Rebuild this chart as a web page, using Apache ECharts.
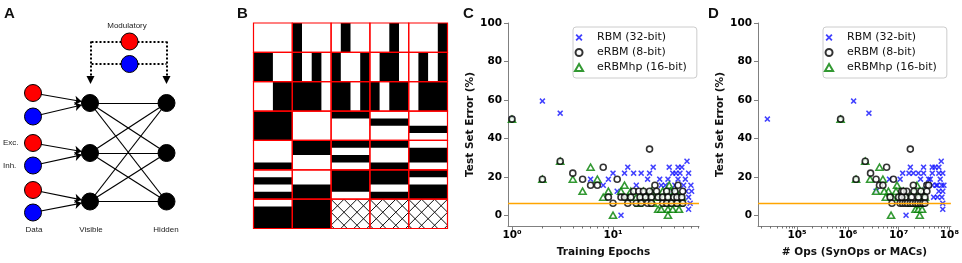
<!DOCTYPE html>
<html>
<head>
<meta charset="utf-8">
<script src="https://cdn.jsdelivr.net/npm/echarts@6/dist/echarts.min.js"></script>
<style>
  html, body { margin: 0; padding: 0; background: #fff; }
  #chart { width: 962px; height: 263px; }
</style>
</head>
<body>
<div id="chart"></div>
<script>
// ---------- panel A : network diagram (panel pixel units) ----------
const dataNodes = [[33, 93], [33, 116.5], [33, 143], [33, 165.5], [33, 190], [33, 212.5]];
const visibleNodes = [[90, 103], [90, 153], [90, 201.5]];
const hiddenNodes = [[166.5, 103], [166.5, 153], [166.5, 201.5]];
const modNodes = [[129.5, 41.5], [129.5, 64]];
const excInhColors = ['#ff0000', '#0000ff'];
const dottedPlain = [
  [[129.5, 41.5], [90.5, 41.5]], [[129.5, 64], [90.5, 64]],
  [[129.5, 41.5], [166.5, 41.5]], [[129.5, 64], [166.5, 64]]
];
const dottedArrow = [[[90.5, 41.5], [90.5, 80]], [[166.5, 41.5], [166.5, 80]]];
const diagramTexts = [
  ['Modulatory', 127, 26, 'center'], ['Exc.', 3, 143, 'left'], ['Inh.', 3, 166, 'left'],
  ['Data', 34, 230, 'center'], ['Visible', 91, 230, 'center'], ['Hidden', 166, 230, 'center']
];

// ---------- panel B : stripe patterns (v = vertical bars, h = horizontal bars, x = hatched) ----------
const stripeRows = [
  ['v0000', 'v1000', 'v0100', 'v0010', 'v0001'],
  ['v1100', 'v1010', 'v1001', 'v0110', 'v0101'],
  ['v0011', 'v1110', 'v1101', 'v1011', 'v0111'],
  ['h1111', 'h0000', 'h1000', 'h0100', 'h0010'],
  ['h0001', 'h1100', 'h1010', 'h1001', 'h0110'],
  ['h0101', 'h0011', 'h1110', 'h1101', 'h1011'],
  ['h0111', 'h1111', 'x', 'x', 'x']
];

// ---------- panel C : error vs training epochs ----------
const cRBM = [[1, 50], [2, 59.4], [3, 53.1], [6, 18.75], [8, 15.6], [9, 18.75], [10, 21.9], [11, 12.5], [12, 0],
  [13, 21.9], [14, 25], [16, 21.9], [17, 15.6], [19, 21.9], [22, 18.75], [23, 21.9], [25, 25], [29, 18.75],
  [30, 15.6], [33, 15.6], [35, 18.75], [36, 25], [39, 21.9], [39, 12.5], [41, 15.6], [42, 21.9], [44, 18.75],
  [44, 25], [46, 21.9], [48, 25], [50, 15.6], [52, 18.75], [54, 28.1], [56, 21.9], [56, 9.4], [58, 6.25],
  [56, 3.1], [59, 15.6], [60, 12.5], [53, 12.5]];
const cERBM = [[1, 50], [2, 18.75], [3, 28.1], [4, 21.9], [5, 18.75], [6, 15.6], [7, 15.6], [8, 25], [9, 9.4],
  [10, 6.25], [11, 18.75], [12, 9.4], [13, 9.4], [14, 6.25], [15, 9.4], [16, 12.5], [17, 6.25], [18, 12.5],
  [18.5, 9.4], [19, 6.25], [20, 12.5], [21, 9.4], [22, 6.25], [23, 34.4], [23, 12.5], [24, 9.4], [24, 6.25],
  [26, 15.6], [27, 12.5], [28, 9.4], [31, 6.25], [31, 9.4], [34, 12.5], [34, 6.25], [35, 9.4], [38, 6.25],
  [40, 9.4], [41, 12.5], [43, 6.25], [43, 9.4], [44, 15.6], [48, 9.4], [49, 12.5], [49, 6.25]];
const cERBMhp = [[1, 50], [2, 18.75], [3, 28.1], [4, 18.75], [5, 12.5], [6, 25], [7, 18.75], [8, 9.4], [9, 12.5],
  [10, 0], [12, 12.5], [13, 15.6], [14, 9.4], [15, 12.5], [17, 9.4], [18, 6.25], [19, 9.4], [20, 12.5],
  [22, 9.4], [24, 12.5], [25, 6.25], [27, 9.4], [28, 3.1], [30, 3.1], [31, 12.5], [32, 9.4], [33, 6.25],
  [35, 3.1], [35, 0], [36, 15.6], [37, 12.5], [38, 9.4], [39, 3.1], [40, 6.25], [42, 12.5], [44, 9.4],
  [45, 3.1], [46, 6.25], [48, 9.4]];

// ---------- panel D : error vs number of ops ----------
const dRBM = [[2.6e4, 50], [1.3e6, 59.4], [2.6e6, 53.1], [3.6e6, 12.5], [6.6e6, 18.75], [1.07e7, 18.75], [1.4e7, 0],
  [1.2e7, 21.9], [1.6e7, 21.9], [1.95e7, 21.9], [2.45e7, 21.9], [3.1e7, 21.9], [4.6e7, 21.9], [6.2e7, 21.9],
  [7.4e7, 21.9], [1.7e7, 25], [3.1e7, 25], [4.6e7, 25], [5.2e7, 25], [6.2e7, 25], [6.9e7, 28.1],
  [2.7e7, 18.75], [3.9e7, 18.75], [6.6e7, 18.75], [3.5e7, 15.6], [4.6e7, 15.6], [5.8e7, 15.6], [7.1e7, 15.6],
  [7.8e7, 15.6], [6.2e7, 12.5], [7.4e7, 12.5], [4.9e7, 9.4], [5.8e7, 9.4], [7.1e7, 9.4], [7.4e7, 6.25],
  [7.4e7, 3.1], [4.2e7, 18.75], [5.5e7, 15.6]];
const dERBM = [[7.2e5, 50], [1.7e7, 34.4], [2.2e6, 28.1], [5.8e6, 25], [1.45e6, 18.75], [2.8e6, 21.9],
  [3.6e6, 18.75], [7.9e6, 18.75], [4.2e6, 15.6], [4.9e6, 15.6], [1.95e7, 15.6], [3.6e7, 15.6], [3.9e7, 15.6],
  [1.15e7, 12.5], [1.45e7, 12.5], [2.0e7, 12.5], [2.75e7, 12.5], [3.6e7, 12.5], [6.8e6, 9.4], [1.0e7, 9.4],
  [1.35e7, 9.4], [1.8e7, 9.4], [2.45e7, 9.4], [3.3e7, 9.4], [7.4e6, 6.25], [1.07e7, 6.25], [1.2e7, 6.25],
  [1.35e7, 6.25], [1.5e7, 6.25], [1.7e7, 6.25], [1.9e7, 6.25], [2.15e7, 6.25], [2.4e7, 6.25], [2.7e7, 6.25],
  [3.0e7, 6.25], [3.3e7, 6.25], [1.15e7, 9.4], [1.25e7, 12.5]];
const dERBMhp = [[7.2e5, 50], [1.45e6, 18.75], [2.2e6, 28.1], [4.2e6, 25], [2.75e6, 18.75], [4.9e6, 18.75],
  [3.6e6, 12.5], [9.3e6, 15.6], [7.1e6, 0], [2.6e7, 0], [2.15e7, 3.1], [2.45e7, 3.1], [2.9e7, 3.1],
  [6.3e6, 12.5], [7.6e6, 9.4], [8.9e6, 12.5], [1.05e7, 9.4], [1.25e7, 12.5], [1.5e7, 9.4], [1.8e7, 6.25],
  [2.0e7, 12.5], [2.3e7, 15.6], [2.5e7, 9.4], [2.75e7, 6.25], [3.0e7, 12.5], [3.3e7, 9.4], [5.2e6, 12.5],
  [5.6e6, 9.4]];

const yTicks = [0, 20, 40, 60, 80, 100];
const cMajor = [1, 10];
const cMinor = [2, 3, 4, 5, 6, 7, 8, 9, 20, 30, 40, 50, 60, 70];
const dMajor = [1e5, 1e6, 1e7, 1e8];
const dMinor = [2e4, 3e4, 4e4, 5e4, 6e4, 7e4, 8e4, 9e4, 2e5, 3e5, 4e5, 5e5, 6e5, 7e5, 8e5, 9e5,
  2e6, 3e6, 4e6, 5e6, 6e6, 7e6, 8e6, 9e6, 2e7, 3e7, 4e7, 5e7, 6e7, 7e7, 8e7, 9e7];
const baseline = 6;
const seriesNames = ['RBM (32-bit)', 'eRBM (8-bit)', 'eRBMhp (16-bit)'];

const chart = echarts.init(document.getElementById('chart'));

const FONT = 'DejaVu Sans';
const axisGray = '#808080';
const xMark = 'path://M0,1.8L1.8,0L5,3.2L8.2,0L10,1.8L6.8,5L10,8.2L8.2,10L5,6.8L1.8,10L0,8.2L3.2,5Z';
const triMark = 'path://M5,0L10,8.66L0,8.66Z';
const sup = { 0: '\u2070', 1: '\u00b9', 5: '\u2075', 6: '\u2076', 7: '\u2077', 8: '\u2078' };

// hatch lines clipped to a cell
function hatch(x, y, w, h, step) {
  const out = [];
  for (let t = -w; t <= h; t += step) {
    const x0 = Math.max(0, -t), x1 = Math.min(w, h - t);
    if (x1 > x0) out.push([x + x0, y + x0 + t, x + x1, y + x1 + t]);
  }
  for (let t = 0; t <= w + h; t += step) {
    const x0 = Math.max(0, t - h), x1 = Math.min(w, t);
    if (x1 > x0) out.push([x + x0, y + t - x0, x + x1, y + t - x1]);
  }
  return out;
}

// consecutive black runs of a 4-bit pattern -> [start, length]
function runs(bits) {
  const out = [];
  let k = 0;
  while (k < bits.length) {
    if (bits[k] === '1') {
      let e = k;
      while (e < bits.length && bits[e] === '1') e++;
      out.push([k, e - k]);
      k = e;
    } else k++;
  }
  return out;
}

const bCells = [];
stripeRows.forEach((row, r) => row.forEach((code, c) => bCells.push([c, r])));

function cellRect(api) {
  const c = api.value(0), r = api.value(1);
  const p0 = api.coord([c, r]), p1 = api.coord([c + 1, r + 1]);
  return { c, r, x: p0[0], y: p0[1], w: p1[0] - p0[0], h: p1[1] - p0[1] };
}

// panel A graph
const nodes = [];
dataNodes.forEach((p, i) => nodes.push({ value: p, itemStyle: { color: excInhColors[i % 2] } }));
visibleNodes.forEach(p => nodes.push({ value: p, itemStyle: { color: '#000' } }));
hiddenNodes.forEach(p => nodes.push({ value: p, itemStyle: { color: '#000' } }));
modNodes.forEach((p, i) => nodes.push({ value: p, itemStyle: { color: excInhColors[i % 2] } }));
const links = [];
dataNodes.forEach((p, i) => links.push({ source: i, target: 6 + Math.floor(i / 2), symbol: ['none', 'arrow'], symbolSize: [0, 7] }));
visibleNodes.forEach((p, v) => hiddenNodes.forEach((q, h) => links.push({ source: 6 + v, target: 9 + h })));

function scatterAxes(gridIndex, min, max, major, minor, name) {
  const fmt = v => '10' + sup[Math.round(Math.log10(v))];
  return [
    {
      type: 'log', logBase: 10, gridIndex, min, max, position: 'bottom',
      name, nameLocation: 'middle', nameGap: 21,
      nameTextStyle: { fontFamily: FONT, fontWeight: 'bold', fontSize: 10.5, color: '#111' },
      axisLine: { onZero: false, lineStyle: { color: axisGray, width: 1 } },
      axisTick: { customValues: major, length: 4, lineStyle: { color: axisGray } },
      axisLabel: { customValues: major, formatter: fmt, fontFamily: FONT, fontWeight: 'bold', fontSize: 10.5, color: '#000', margin: 4 },
      splitLine: { show: false }
    },
    {
      type: 'log', logBase: 10, gridIndex, min, max, position: 'bottom',
      axisLine: { show: false, onZero: false },
      axisTick: { customValues: minor, length: 2.5, lineStyle: { color: '#707070' } },
      axisLabel: { show: false },
      splitLine: { show: false }
    }
  ];
}

function yAxisFor(gridIndex) {
  return {
    type: 'value', gridIndex, min: -5.6, max: 100,
    name: 'Test Set Error (%)', nameLocation: 'middle', nameGap: 31, nameRotate: 90,
    nameTextStyle: { fontFamily: FONT, fontWeight: 'bold', fontSize: 10.5, color: '#111' },
    axisLine: { show: true, onZero: false, lineStyle: { color: axisGray, width: 1 } },
    axisTick: { show: true, customValues: yTicks, length: 4, lineStyle: { color: axisGray } },
    axisLabel: { customValues: yTicks, fontFamily: FONT, fontWeight: 'bold', fontSize: 10.5, color: '#000', margin: 6 },
    splitLine: { show: false }
  };
}

function scatterSeries(xIdx, yIdx, rbm, erbm, erbmhp) {
  return [
    {
      name: seriesNames[0], type: 'scatter', xAxisIndex: xIdx, yAxisIndex: yIdx, z: 2,
      symbol: xMark, symbolSize: 6, symbolKeepAspect: true, itemStyle: { color: '#1010ff' }, data: rbm,
      markLine: {
        silent: true, symbol: 'none', label: { show: false },
        lineStyle: { color: '#ffa500', width: 1.3, type: 'solid' }, data: [{ yAxis: baseline }]
      }
    },
    {
      name: seriesNames[2], type: 'scatter', xAxisIndex: xIdx, yAxisIndex: yIdx, z: 3,
      symbol: triMark, symbolSize: 7, symbolKeepAspect: true,
      itemStyle: { color: '#ffffff', borderColor: '#008000', borderWidth: 1.6 }, data: erbmhp
    },
    {
      name: seriesNames[1], type: 'scatter', xAxisIndex: xIdx, yAxisIndex: yIdx, z: 4,
      symbol: 'circle', symbolSize: 6, symbolKeepAspect: true,
      itemStyle: { color: '#ffffff', borderColor: '#000', borderWidth: 1.6 }, data: erbm
    }
  ];
}

function legendAt(left) {
  return {
    data: seriesNames, orient: 'vertical', left, top: 27,
    padding: [4, 10, 4, 1], itemGap: 2, itemWidth: 26, itemHeight: 7,
    symbolKeepAspect: true,
    borderColor: '#cccccc', borderWidth: 1, borderRadius: 3,
    backgroundColor: 'rgba(255,255,255,0.8)',
    textStyle: { fontFamily: FONT, fontSize: 11, lineHeight: 13, color: '#111' },
    selectedMode: false
  };
}

const panelLetter = (text, left) => ({
  type: 'text', left, top: 6,
  style: { text, font: 'bold 15px "Liberation Sans", Arial, sans-serif', fill: '#111' }
});

const option = {
  animation: false,
  backgroundColor: '#fff',
  grid: [
    { left: 0, top: 0, width: 200, height: 263 },
    { left: 253.5, top: 23, width: 194, height: 205.5 },
    { left: 508, top: 23, width: 191, height: 206 },
    { left: 758, top: 23, width: 193, height: 206 }
  ],
  xAxis: [
    { type: 'value', gridIndex: 0, min: 0, max: 200, show: false },
    { type: 'value', gridIndex: 1, min: 0, max: 5, show: false },
    ...scatterAxes(2, 0.913, 71, cMajor, cMinor, 'Training Epochs'),
    ...scatterAxes(3, 1.7e4, 1.07e8, dMajor, dMinor, '# Ops (SynOps or MACs)')
  ],
  yAxis: [
    { type: 'value', gridIndex: 0, min: 0, max: 263, inverse: true, show: false },
    { type: 'value', gridIndex: 1, min: 0, max: 7, inverse: true, show: false },
    yAxisFor(2),
    yAxisFor(3)
  ],
  legend: [legendAt(573), legendAt(823)],
  graphic: [
    panelLetter('A', 4), panelLetter('B', 237), panelLetter('C', 463), panelLetter('D', 708),
    ...diagramTexts.map(([text, x, y, align]) => ({
      type: 'text', x, y,
      style: { text, font: '8px "Liberation Sans", Arial, sans-serif', fill: '#222', align, verticalAlign: 'middle' }
    }))
  ],
  series: [
    {
      type: 'lines', coordinateSystem: 'cartesian2d', xAxisIndex: 0, yAxisIndex: 0, z: 1,
      polyline: false, symbol: ['none', 'none'],
      lineStyle: { color: '#000', width: 2, type: [2, 2], opacity: 1 },
      data: dottedPlain.map(coords => ({ coords }))
    },
    {
      type: 'lines', coordinateSystem: 'cartesian2d', xAxisIndex: 0, yAxisIndex: 0, z: 1,
      polyline: false, symbol: ['none', 'triangle'], symbolSize: [0, 8],
      lineStyle: { color: '#000', width: 2, type: [2, 2], opacity: 1 },
      data: dottedArrow.map(coords => ({ coords }))
    },
    {
      type: 'graph', coordinateSystem: 'cartesian2d', xAxisIndex: 0, yAxisIndex: 0, layout: 'none', z: 2,
      symbolSize: 17, silent: true,
      itemStyle: { borderColor: '#000', borderWidth: 1 },
      lineStyle: { color: '#000', width: 1.2, opacity: 1, curveness: 0 },
      data: nodes, links
    },
    {
      // stripe / hatch content of each cell
      type: 'custom', coordinateSystem: 'cartesian2d', xAxisIndex: 1, yAxisIndex: 1, silent: true, z: 2,
      data: bCells,
      renderItem(params, api) {
        const { c, r, x, y, w, h } = cellRect(api);
        const code = stripeRows[r][c];
        const children = [];
        if (code === 'x') {
          hatch(x, y, w, h, 13).forEach(([x1, y1, x2, y2]) => children.push({
            type: 'line', shape: { x1, y1, x2, y2 }, style: { stroke: '#111', lineWidth: 1 }
          }));
        } else {
          runs(code.slice(1)).forEach(([k, n]) => {
            const shape = code[0] === 'v'
              ? { x: x + k * w / 4, y, width: n * w / 4, height: h }
              : { x, y: y + k * h / 4, width: w, height: n * h / 4 };
            children.push({ type: 'rect', shape, style: { fill: '#000' } });
          });
        }
        return { type: 'group', children };
      }
    },
    {
      // red cell borders drawn on top
      type: 'custom', coordinateSystem: 'cartesian2d', xAxisIndex: 1, yAxisIndex: 1, silent: true, z: 3,
      data: bCells,
      renderItem(params, api) {
        const { x, y, w, h } = cellRect(api);
        return { type: 'rect', shape: { x, y, width: w, height: h }, style: { fill: 'none', stroke: '#ff0000', lineWidth: 1.2 } };
      }
    },
    ...scatterSeries(2, 2, cRBM, cERBM, cERBMhp),
    ...scatterSeries(4, 3, dRBM, dERBM, dERBMhp)
  ]
};

chart.setOption(option);
</script>
</body>
</html>
